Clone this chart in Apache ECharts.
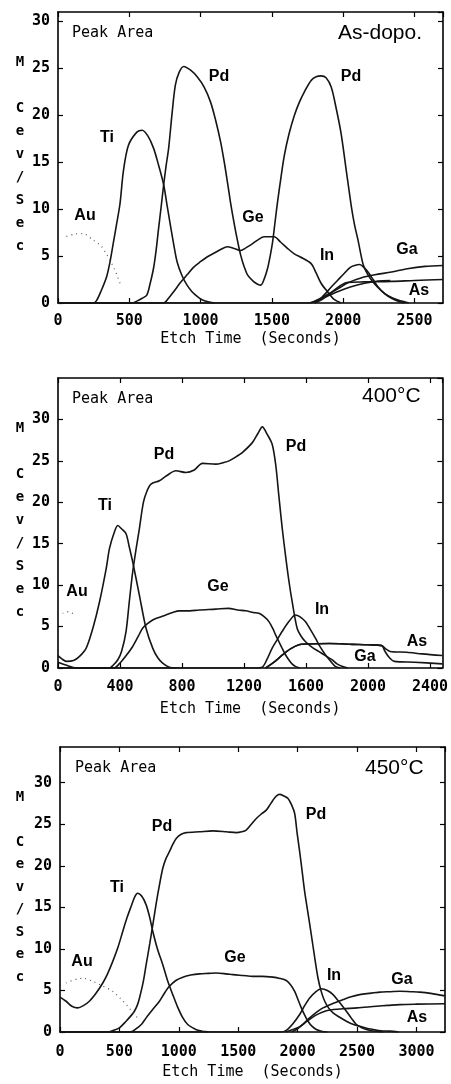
<!DOCTYPE html>
<html>
<head>
<meta charset="utf-8">
<script src="https://cdn.jsdelivr.net/npm/echarts@6/dist/echarts.min.js"></script>
<style>
  html, body { margin: 0; padding: 0; background: #fff; }
  #chart { width: 451px; height: 1084px; }
</style>
</head>
<body>
<div id="chart"></div>
<script>
  // ---- panel 1 : as deposited ----
  var p1Au = [[59,7.1],[120,7.35],[176,7.4],[247,6.7],[306,6.0],[340,5.2],[377,4.2],[410,3.1],[435,2.1]];
  var p1Ti = [[0,0],[250,0],[270,0.25],[300,1.2],[341,2.8],[365,4.4],[388,6.4],[412,8.5],[435,10.6],[459,14.1],[494,16.8],[553,18.2],[590,18.4],[630,17.8],[670,16.5],[705,14.7],[741,12.6],[765,10.4],[788,8.3],[812,6.2],[835,4.4],[870,2.9],[905,1.9],[940,1.2],[976,0.7],[1010,0.35],[1046,0.15],[1100,0]];
  var p1Pd = [[0,0],[520,0],[553,0.2],[590,0.5],[623,0.85],[645,2],[670,3.7],[688,5.6],[705,7.9],[723,10.2],[741,12.6],[758,14.6],[776,16.5],[800,20.2],[823,23.2],[850,24.6],[882,25.2],[930,24.8],[976,24.1],[1025,23],[1070,21.4],[1105,19.5],[1140,17.2],[1165,15.1],[1188,12.9],[1210,10.7],[1234,8.6],[1258,6.7],[1281,5.1],[1305,3.9],[1329,3.0],[1370,2.3],[1400,2.0],[1422,1.9],[1447,2.6],[1470,3.7],[1488,5],[1505,6.5],[1522,8.6],[1540,10.8],[1563,13.3],[1587,15.7],[1620,18],[1658,20],[1693,21.4],[1728,22.5],[1775,23.7],[1810,24.1],[1845,24.2],[1880,24.0],[1916,23],[1950,20.8],[1986,18],[2020,14.3],[2057,10.3],[2080,8.3],[2104,6.7],[2140,4.1],[2170,3.1],[2198,2.45],[2240,1.7],[2292,1.0],[2350,0.5],[2410,0.2],[2460,0]];
  var p1Ge = [[0,0],[741,0],[775,0.5],[811,1.2],[860,2.2],[905,3.0],[950,3.8],[999,4.4],[1045,4.9],[1093,5.3],[1140,5.7],[1188,6.0],[1235,5.8],[1281,5.6],[1320,5.9],[1352,6.2],[1400,6.7],[1446,7.05],[1516,7.05],[1560,6.5],[1611,5.8],[1660,5.2],[1700,4.9],[1775,4.2],[1810,3.2],[1845,2.1],[1890,1.2],[1939,0.35],[1986,0]];
  var p1In = [[0,0],[1760,0],[1800,0.2],[1850,0.6],[1916,1.7],[1960,2.4],[2010,3.2],[2050,3.8],[2080,4.0],[2116,4.1],[2145,3.8],[2174,3.3],[2210,2.5],[2245,1.7],[2290,1.0],[2339,0.5],[2390,0.15],[2433,0]];
  var p1Ga = [[1800,0],[1869,0.7],[1950,1.4],[2040,2.2],[2130,2.7],[2222,3.0],[2339,3.3],[2450,3.65],[2574,3.9],[2700,4.0]];
  var p1As = [[1800,0],[1845,0.3],[1890,0.8],[1939,1.4],[1985,1.9],[2033,2.2],[2150,2.25],[2339,2.3],[2500,2.4],[2700,2.5]];
  var p1As2 = [[1775,0],[1870,0.6],[1960,1.2],[2050,1.7],[2150,2.1],[2245,2.35],[2330,2.4]];

  // ---- panel 2 : 400 C ----
  var p2Au = [[30,6.6],[55,6.8],[85,6.7],[110,6.4]];
  var p2Ti = [[0,1.5],[25,1.1],[54,0.8],[100,0.9],[139,1.4],[182,2.4],[225,4.8],[268,8],[311,12],[332,14.4],[360,16.2],[386,17.2],[410,16.8],[439,16.2],[460,14.6],[482,12.8],[525,8.8],[568,4.8],[611,2.4],[645,1.2],[675,0.6],[718,0.1],[760,0]];
  var p2Pd = [[0,0],[330,0],[354,0.3],[386,1.0],[410,2.0],[439,4.4],[460,8],[482,11.6],[505,14.5],[525,16.8],[551,20],[575,21.4],[600,22.2],[654,22.6],[700,23.2],[761,23.8],[825,23.6],[879,23.9],[932,24.7],[1018,24.6],[1070,24.8],[1104,25],[1150,25.5],[1189,26],[1254,27.2],[1290,28.3],[1318,29.1],[1350,28.2],[1382,27],[1405,24.5],[1425,20.8],[1446,17],[1468,13.6],[1490,10.5],[1511,8],[1543,4.8],[1570,3.8],[1596,3.2],[1640,2.5],[1682,2],[1725,1.5],[1768,1],[1800,0.5],[1832,0.2],[1870,0]];
  var p2Ge = [[0,0],[360,0],[400,0.6],[440,1.5],[482,2.6],[520,3.9],[546,4.8],[580,5.4],[611,5.8],[650,6.1],[696,6.4],[740,6.7],[782,6.9],[850,6.9],[911,7.0],[1018,7.1],[1100,7.2],[1160,7.0],[1211,6.9],[1260,6.7],[1296,6.6],[1330,6.2],[1361,5.6],[1385,4.8],[1404,4],[1425,3.2],[1446,2.4],[1468,1.6],[1489,1.0],[1510,0.5],[1532,0.2],[1560,0]];
  var p2In = [[0,0.7],[50,0.35],[120,0],[1280,0],[1318,0.1],[1350,1.1],[1382,2.4],[1414,3.4],[1446,4.4],[1490,5.6],[1532,6.4],[1560,6.2],[1596,5.6],[1630,4.6],[1661,3.6],[1690,2.6],[1725,1.6],[1760,0.8],[1789,0.2],[1820,0]];
  var p2Ga = [[1340,0],[1400,0.8],[1450,1.6],[1500,2.3],[1554,2.8],[1600,2.9],[1750,2.95],[1900,2.85],[2000,2.8],[2089,2.7],[2110,2.0],[2140,1.2],[2170,0.8],[2300,0.7],[2480,0.5]];
  var p2As = [[1340,0],[1400,0.8],[1450,1.6],[1500,2.3],[1554,2.8],[1600,2.9],[1750,2.95],[1900,2.85],[2000,2.8],[2089,2.7],[2115,2.3],[2143,2.0],[2250,1.9],[2350,1.7],[2480,1.5]];

  // ---- panel 3 : 450 C ----
  var p3Au = [[50,5.9],[148,6.4],[200,6.45],[275,6.1],[350,5.6],[443,4.9],[510,4.0],[570,3.1],[620,2.2],[654,1.7]];
  var p3Ti = [[0,4.2],[51,3.7],[100,3.1],[149,2.9],[200,3.2],[247,3.7],[300,4.6],[360,5.9],[400,7],[444,8.5],[490,10.3],[528,12.1],[565,13.8],[598,15.1],[630,16.3],[654,16.7],[690,16.3],[725,15.3],[755,13.8],[781,12.1],[820,10],[865,8.1],[905,6.2],[949,4.5],[990,3],[1034,1.7],[1075,0.9],[1118,0.5],[1160,0.2],[1202,0.1],[1250,0]];
  var p3Pd = [[0,0],[400,0],[450,0.2],[500,0.5],[556,1.3],[600,2],[626,2.5],[650,3.2],[669,4.1],[700,6],[725,8.1],[755,10.6],[781,12.9],[810,15.5],[837,17.7],[865,19.7],[890,20.8],[921,21.7],[950,22.6],[978,23.3],[1020,23.8],[1062,24],[1174,24.1],[1287,24.2],[1399,24.1],[1483,24],[1530,24.1],[1567,24.3],[1610,25],[1652,25.7],[1700,26.3],[1736,26.7],[1765,27.3],[1792,27.9],[1820,28.4],[1848,28.6],[1885,28.4],[1919,28.1],[1950,27.3],[1975,26.3],[1995,24],[2017,21.7],[2038,19.3],[2059,16.9],[2087,14.3],[2115,11.7],[2143,9],[2171,6.5],[2200,4.8],[2228,3.7],[2260,2.9],[2298,2.3],[2350,1.8],[2410,1.3],[2470,0.9],[2522,0.7],[2580,0.45],[2635,0.3],[2700,0.15],[2775,0.1],[2850,0]];
  var p3Ge = [[0,0],[580,0],[612,0.1],[660,0.6],[690,1],[725,1.7],[780,2.7],[837,3.7],[880,4.7],[921,5.5],[975,6.2],[1034,6.6],[1100,6.85],[1174,7.0],[1250,7.05],[1315,7.1],[1400,7],[1455,6.9],[1540,6.8],[1624,6.7],[1700,6.7],[1792,6.6],[1850,6.45],[1904,6.2],[1940,5.7],[1975,4.9],[2000,4.0],[2031,2.9],[2060,2.0],[2087,1.3],[2120,0.7],[2157,0.3],[2200,0.1],[2250,0]];
  var p3In = [[0,0],[1860,0],[1904,0.2],[1960,1],[2017,2.1],[2060,3.2],[2101,4.1],[2150,4.8],[2199,5.2],[2250,5.0],[2298,4.5],[2350,3.6],[2410,2.5],[2450,1.7],[2494,0.9],[2540,0.5],[2579,0.3],[2620,0.15],[2663,0.1],[2720,0]];
  var p3Ga = [[1950,0],[1989,0.3],[2050,1.0],[2101,1.7],[2160,2.4],[2213,2.9],[2300,3.45],[2382,3.9],[2450,4.25],[2522,4.5],[2600,4.65],[2691,4.8],[2780,4.85],[2860,4.9],[2950,4.85],[3028,4.8],[3120,4.65],[3240,4.35]];
  var p3As = [[1900,0],[1960,0.3],[2016,0.6],[2080,1.3],[2150,2.0],[2241,2.56],[2300,2.7],[2381,2.8],[2500,2.9],[2662,3.1],[2760,3.2],[2859,3.3],[3000,3.35],[3240,3.4]];

  var xName = 'Etch Time  (Seconds)';
  var yName = 'M\n\nC\ne\nv\n/\nS\ne\nc';

  var mono = 'DejaVu Sans Mono';
  var sans = 'Liberation Sans';

  var panels = [
    { grid: {left: 58, top: 12, width: 385, height: 291}, xMax: 2700, xInt: 500, yMax: 31, margin: 11, gap: 29,
      lines: [p1Ti, p1Pd, p1Ge, p1In, p1Ga, p1As, p1As2], dotted: p1Au,
      title: 'As-dopo.', titlePos: [338, 33], peakPos: [72, 33], yNamePos: [20, 50.5], yLine: 23,
      labels: [['Ti',107,138],['Pd',219,77],['Pd',351,77],['Au',85,216],['Ge',253,218],['In',327,256],['Ga',407,250],['As',419,291]] },
    { grid: {left: 58, top: 378, width: 386, height: 290}, xMax: 2480, xInt: 400, yMax: 35, margin: 12, gap: 34,
      lines: [p2Ti, p2Pd, p2Ge, p2In, p2Ga, p2As], dotted: p2Au,
      title: '400\u00b0C', titlePos: [362, 396], peakPos: [72, 399], yNamePos: [20, 416.5], yLine: 23,
      labels: [['Ti',105,506],['Pd',164,455],['Pd',296,447],['Au',77,592],['Ge',218,587],['In',322,610],['As',417,642],['Ga',365,657]] },
    { grid: {left: 60, top: 747, width: 385, height: 285}, xMax: 3240, xInt: 500, yMax: 34.3, margin: 13, gap: 33,
      lines: [p3Ti, p3Pd, p3Ge, p3In, p3Ga, p3As], dotted: p3Au,
      title: '450\u00b0C', titlePos: [365, 768], peakPos: [75, 768], yNamePos: [20, 785.75], yLine: 22.5,
      labels: [['Ti',117,888],['Pd',162,827],['Pd',316,815],['Au',82,962],['Ge',235,958],['In',334,976],['Ga',402,980],['As',417,1018]] }
  ];

  var axisLine = { onZero: false, lineStyle: { color: '#000', width: 1.6 } };
  var tick = { inside: true, length: 5, lineStyle: { color: '#000', width: 1.2 } };
  var tickLabel = { color: '#000', fontFamily: mono, fontWeight: 'bold', fontSize: 15,
                    formatter: function (v) { return String(v); } };

  var option = { animation: false, backgroundColor: '#fff', grid: [], xAxis: [], yAxis: [], series: [], graphic: [] };

  panels.forEach(function (p, i) {
    option.grid.push(p.grid);
    option.xAxis.push({
      type: 'value', gridIndex: i, min: 0, max: p.xMax, interval: p.xInt, position: 'bottom',
      axisLine: axisLine, axisTick: tick, splitLine: { show: false },
      axisLabel: Object.assign({ margin: p.margin, showMaxLabel: false }, tickLabel),
      name: xName, nameLocation: 'middle', nameGap: p.gap,
      nameTextStyle: { color: '#000', fontFamily: mono, fontSize: 15 }
    });
    option.xAxis.push({
      type: 'value', gridIndex: i, min: 0, max: p.xMax, interval: p.xInt, position: 'top',
      axisLine: axisLine, axisTick: tick, splitLine: { show: false }, axisLabel: { show: false }
    });
    option.yAxis.push({
      type: 'value', gridIndex: i, min: 0, max: p.yMax, interval: 5, position: 'left',
      axisLine: axisLine, axisTick: tick, splitLine: { show: false },
      axisLabel: Object.assign({ margin: 8, showMaxLabel: false }, tickLabel)
    });
    option.yAxis.push({
      type: 'value', gridIndex: i, min: 0, max: p.yMax, interval: 5, position: 'right',
      axisLine: axisLine, axisTick: tick, splitLine: { show: false }, axisLabel: { show: false }
    });

    p.lines.forEach(function (d) {
      option.series.push({
        type: 'line', xAxisIndex: i * 2, yAxisIndex: i * 2, data: d,
        showSymbol: false, smooth: 0.3, clip: true,
        lineStyle: { color: '#151515', width: 1.6 }
      });
    });
    option.series.push({
      type: 'line', xAxisIndex: i * 2, yAxisIndex: i * 2, data: p.dotted,
      showSymbol: false, smooth: 0.3, clip: true,
      lineStyle: { color: '#555', width: 1.2, type: [1, 4] }
    });

    option.graphic.push({
      type: 'text', x: p.peakPos[0], y: p.peakPos[1],
      style: { text: 'Peak Area', fill: '#000', fontFamily: mono, fontSize: 15, align: 'left', verticalAlign: 'middle' }
    });
    option.graphic.push({
      type: 'text', x: p.titlePos[0], y: p.titlePos[1],
      style: { text: p.title, fill: '#000', fontFamily: sans, fontSize: 21, align: 'left', verticalAlign: 'middle' }
    });
    option.graphic.push({
      type: 'text', x: p.yNamePos[0], y: p.yNamePos[1],
      style: { text: yName, fill: '#000', fontFamily: mono, fontWeight: 'bold', fontSize: 14,
               lineHeight: p.yLine, align: 'center', verticalAlign: 'top' }
    });
    p.labels.forEach(function (l) {
      option.graphic.push({
        type: 'text', x: l[1], y: l[2],
        style: { text: l[0], fill: '#000', fontFamily: sans, fontWeight: 'bold', fontSize: 16, align: 'center', verticalAlign: 'middle' }
      });
    });
  });

  var chart = echarts.init(document.getElementById('chart'), null, { renderer: 'canvas' });
  chart.setOption(option);
</script>
</body>
</html>
